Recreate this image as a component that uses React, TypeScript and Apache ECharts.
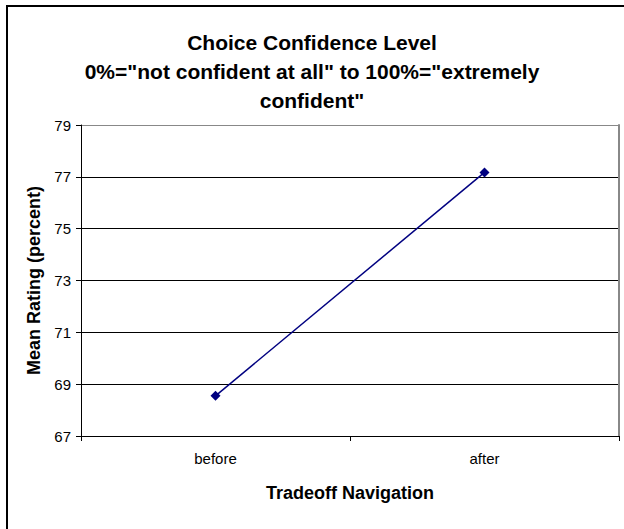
import React, { useEffect, useRef } from "react";
import * as echarts from "echarts";

const categories = ["before", "after"];
const meanRating = [68.55, 77.17];
const titleLines = [
  "Choice Confidence Level",
  '0%="not confident at all" to 100%="extremely',
  'confident"',
];

export default function App() {
  const ref = useRef<HTMLDivElement>(null);
  useEffect(() => {
    const chart = echarts.init(ref.current!, null, { renderer: "svg" });
    const font = "'Liberation Sans', Arial, sans-serif";
    chart.setOption({
      animation: false,
      backgroundColor: "#ffffff",
      textStyle: { fontFamily: font },
      title: {
        text: titleLines.join("\n"),
        left: "center",
        top: 23,
        textStyle: {
          fontFamily: font,
          fontSize: 21,
          fontWeight: "bold",
          color: "#000",
          lineHeight: 29,
        },
      },
      graphic: [
        {
          type: "rect",
          shape: { x: 7, y: 6, width: 700, height: 600 },
          style: { fill: "none", stroke: "#000", lineWidth: 2 },
          silent: true,
        },
      ],
      grid: { left: 81, right: 5, top: 125, bottom: 93, containLabel: false },
      xAxis: {
        type: "category",
        data: categories,
        boundaryGap: true,
        name: "Tradeoff Navigation",
        nameLocation: "middle",
        nameGap: 48,
        nameTextStyle: { fontFamily: font, fontSize: 18, fontWeight: "bold", color: "#000" },
        axisLine: { lineStyle: { color: "#000", width: 1 } },
        axisTick: { show: true, length: 5, lineStyle: { color: "#000" } },
        axisLabel: { color: "#000", fontSize: 15, margin: 15, fontFamily: font },
        splitLine: { show: false },
      },
      yAxis: [
        {
          type: "value",
          min: 67,
          max: 79,
          interval: 2,
          name: "Mean Rating (percent)",
          nameLocation: "middle",
          nameGap: 33,
          nameTextStyle: { fontFamily: font, fontSize: 18, fontWeight: "bold", color: "#000" },
          axisLine: { show: true, lineStyle: { color: "#000", width: 1 } },
          axisTick: { show: true, length: 5, lineStyle: { color: "#000" } },
          axisLabel: { color: "#000", fontSize: 15, margin: 10, fontFamily: font },
          splitLine: {
            show: true,
            lineStyle: {
              color: ["#000", "#000", "#000", "#000", "#000", "#000", "#888"],
              width: 1,
            },
          },
        },
        {
          type: "value",
          position: "right",
          min: 67,
          max: 79,
          interval: 2,
          axisLine: { show: true, lineStyle: { color: "#888", width: 2 } },
          axisTick: { show: false },
          axisLabel: { show: false },
          splitLine: { show: false },
        },
      ],
      series: [
        {
          type: "line",
          data: meanRating,
          yAxisIndex: 0,
          symbol: "diamond",
          symbolSize: 10,
          lineStyle: { color: "#000080", width: 1.5 },
          itemStyle: { color: "#000080" },
        },
      ],
    });
    return () => chart.dispose();
  }, []);
  return (
    <div
      ref={ref}
      style={{ position: "fixed", left: 0, top: 0, width: 624, height: 529 }}
    />
  );
}
